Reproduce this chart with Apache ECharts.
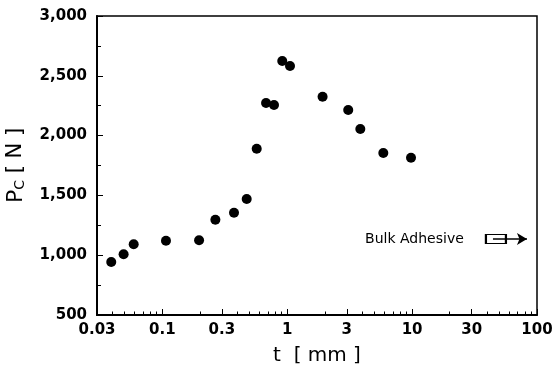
<!DOCTYPE html>
<html>
<head>
<meta charset="utf-8">
<script src="https://cdn.jsdelivr.net/npm/echarts@6/dist/echarts.min.js"></script>
<style>html,body{margin:0;padding:0;background:#fff}#c{width:553px;height:368px}</style>
</head>
<body>
<div id="c"></div>
<script>
// Data
const thickness = [0.039, 0.049, 0.059, 0.107, 0.197, 0.266, 0.375, 0.474, 0.570, 0.677, 0.784, 0.913, 1.053, 1.92, 3.08, 3.85, 5.88, 9.8];
const pc = [943, 1008, 1091, 1121, 1125, 1297, 1355, 1470, 1890, 2273, 2256, 2624, 2582, 2325, 2214, 2055, 1855, 1815];
const xTickLabels = [0.03, 0.1, 0.3, 1, 3, 10, 30, 100];
const xMinorTicks = [0.04, 0.05, 0.06, 0.07, 0.08, 0.09, 0.2, 0.4, 0.5, 0.6, 0.7, 0.8, 0.9, 2, 4, 5, 6, 7, 8, 9, 20, 40, 50, 60, 70, 80, 90];
const yTicks = [500, 1000, 1500, 2000, 2500, 3000];
const bulkLabel = 'Bulk Adhesive';
const bulkPoint = [46.9, 1135];
const bulkArrow = [[44.4, 1135], [83.1, 1135]];

const FONT = 'DejaVu Sans';
const chart = echarts.init(document.getElementById('c'), null, {renderer: 'canvas'});
const fmtX = v => String(Number(Number(v).toPrecision(3)));

chart.setOption({
  animation: false,
  backgroundColor: '#fff',
  grid: {
    left: 97, right: 16, top: 16, bottom: 53,
    outerBoundsMode: 'none',
    show: true, borderColor: '#000', borderWidth: 1.5, backgroundColor: 'transparent'
  },
  xAxis: [{
    type: 'log', logBase: 10, min: 0.03, max: 100,
    name: 't  [ mm ]', nameLocation: 'middle', nameGap: 31,
    nameTextStyle: {fontFamily: FONT, fontSize: 20, color: '#000'},
    axisLine: {show: true, onZero: false, lineStyle: {color: '#000', width: 2}},
    axisTick: {show: true, inside: true, length: 6, customValues: xTickLabels, lineStyle: {color: '#000', width: 1}},
    axisLabel: {show: true, customValues: xTickLabels, formatter: fmtX, margin: 8,
      fontFamily: FONT, fontSize: 15, fontWeight: 'bold', color: '#000'},
    splitLine: {show: false}, minorTick: {show: false}
  }, {
    type: 'log', logBase: 10, min: 0.03, max: 100, position: 'bottom',
    axisLine: {show: false},
    axisTick: {show: true, inside: true, length: 3.5, customValues: xMinorTicks, lineStyle: {color: '#000', width: 1}},
    axisLabel: {show: false},
    splitLine: {show: false}
  }],
  yAxis: {
    type: 'value', min: 500, max: 3000, interval: 500,
    name: '{p|P}{s|C}{b| [ N ]}', nameLocation: 'middle', nameGap: 70,
    nameTextStyle: {
      color: '#000',
      rich: {
        p: {fontFamily: FONT, fontSize: 22, color: '#000'},
        s: {fontFamily: FONT, fontSize: 14, color: '#000', verticalAlign: 'bottom'},
        b: {fontFamily: FONT, fontSize: 21, color: '#000'}
      }
    },
    axisLine: {show: true, lineStyle: {color: '#000', width: 2}},
    axisTick: {show: true, inside: true, length: 6, lineStyle: {color: '#000', width: 1}},
    minorTick: {show: true, splitNumber: 2, length: 4, lineStyle: {color: '#000', width: 1}},
    axisLabel: {margin: 10, fontFamily: FONT, fontSize: 15, fontWeight: 'bold', color: '#000',
      formatter: v => Number(v).toLocaleString('en-US')},
    splitLine: {show: false}
  },
  series: [{
    type: 'scatter',
    data: thickness.map((t, i) => [t, pc[i]]),
    symbol: 'circle', symbolSize: 10,
    itemStyle: {color: '#000', opacity: 1},
    emphasis: {disabled: true}
  }, {
    type: 'scatter',
    data: [bulkPoint],
    symbol: 'rect', symbolSize: [20, 9],
    itemStyle: {color: '#fff', borderColor: '#000', borderWidth: 1.5, opacity: 1},
    label: {show: true, position: 'left', distance: 21, formatter: bulkLabel,
      fontFamily: FONT, fontSize: 14, color: '#000', opacity: 1},
    emphasis: {disabled: true},
    markLine: {
      silent: true, symbol: ['none', 'arrow'], symbolSize: [9, 10],
      label: {show: false},
      lineStyle: {color: '#000', width: 1.5, type: 'solid', opacity: 1},
      data: [[{coord: bulkArrow[0]}, {coord: bulkArrow[1]}]]
    }
  }]
});
</script>
</body>
</html>
